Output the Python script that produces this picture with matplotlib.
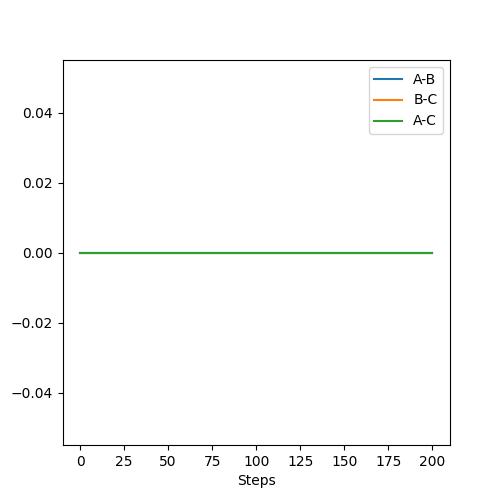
import matplotlib
matplotlib.use("Agg")
import matplotlib.pyplot as plt

# every pair stays at zero for the whole run
steps = list(range(201))
dist_ab = [0.0] * len(steps)
dist_bc = [0.0] * len(steps)
dist_ac = [0.0] * len(steps)

fig = plt.figure(figsize=(5, 5), dpi=100)
plt.plot(steps, dist_ab, label='A-B')
plt.plot(steps, dist_bc, label='B-C')
plt.plot(steps, dist_ac, label='A-C')
plt.xlabel('Steps')
plt.legend()
plt.savefig('out.png')
